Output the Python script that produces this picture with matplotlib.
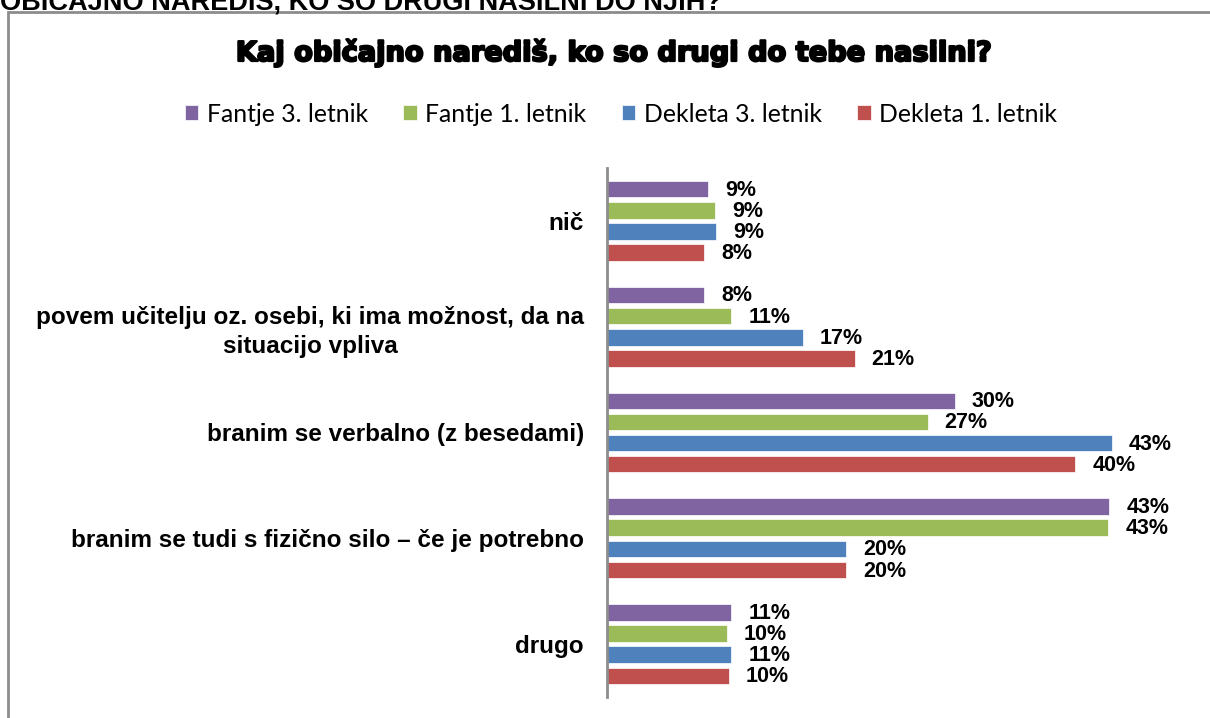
import numpy as np
import matplotlib.pyplot as plt
import matplotlib.patheffects as pe
from matplotlib.patches import Rectangle

# categories, top to bottom
categories = ['nič',
              'povem učitelju oz. osebi, ki ima možnost, da na\nsituacijo vpliva',
              'branim se verbalno (z besedami)',
              'branim se tudi s fizično silo – če je potrebno',
              'drugo']
series_names = ['Fantje 3. letnik', 'Fantje 1. letnik', 'Dekleta 3. letnik', 'Dekleta 1. letnik']
fantje3 = [8.6, 8.3, 29.6, 42.8, 10.6]
fantje1 = [9.2, 10.6, 27.3, 42.7, 10.2]
dekleta3 = [9.3, 16.7, 43.0, 20.4, 10.6]
dekleta1 = [8.3, 21.1, 39.9, 20.4, 10.4]
colors = ['#8064A2', '#9BBB59', '#4F81BD', '#C0504D']

fig = plt.figure(figsize=(12.1, 7.18), dpi=100)
ax = fig.add_axes([607/1210, 21/718, 590/1210, 529/718])

centers = np.arange(len(categories)) * 5.0
offsets = [-1.5, -0.5, 0.5, 1.5]
handles = []
for vals, off, col, name in zip([fantje3, fantje1, dekleta3, dekleta1], offsets, colors, series_names):
    b = ax.barh(centers + off, vals, height=0.78, color=col, edgecolor='white', linewidth=0.5, label=name)
    handles.append(b)
    for y, v in zip(centers + off, vals):
        ax.annotate(f'{v:.0f}%', (v, y), xytext=(17, -1), textcoords='offset pixels',
                    va='center', ha='left', fontsize=15.5, fontweight='bold', family='Liberation Sans')

ax.set_ylim(centers[-1] + 2.5, centers[0] - 2.5)
ax.set_xlim(0, 590 / 11.74)
ax.set_yticks(centers)
ax.set_yticklabels(categories, fontsize=17.5, fontweight='bold', family='Liberation Sans',
                   multialignment='center', linespacing=1.35)
ax.tick_params(axis='y', length=0, pad=16.5)
ax.set_xticks([])
for s in ['top', 'right', 'bottom']:
    ax.spines[s].set_visible(False)
ax.spines['left'].set_color('#8c8c8c')
ax.spines['left'].set_linewidth(2)

# chart title and legend
fig.text(613/1210, 1 - 53/718, 'Kaj običajno narediš, ko so drugi do tebe nasilni?', ha='center', va='center',
         fontsize=19.6, fontweight='heavy', family='DejaVu Sans',
         path_effects=[pe.withStroke(linewidth=1.6, foreground='black')])
fig.legend(handles=handles, loc='center', bbox_to_anchor=(621/1210, 1 - 114/718), ncol=4, frameon=False,
           prop={'family': 'Lato', 'size': 17.8}, handlelength=0.55, handleheight=0.55, handletextpad=0.35,
           columnspacing=1.42)

# cut-off heading above the chart frame and the frame itself
fig.text(0, 1 - 9/718, 'OBIČAJNO NAREDIŠ, KO SO DRUGI NASILNI DO NJIH?', ha='left', va='baseline',
         fontsize=19.5, fontweight='bold', family='Liberation Sans')
fig.patches.append(Rectangle((8/1210, -0.1), 1.2, 1 - 12/718 + 0.1, transform=fig.transFigure,
                             fill=False, edgecolor='#8c8c8c', linewidth=2))

plt.savefig('out.png', dpi=100)
